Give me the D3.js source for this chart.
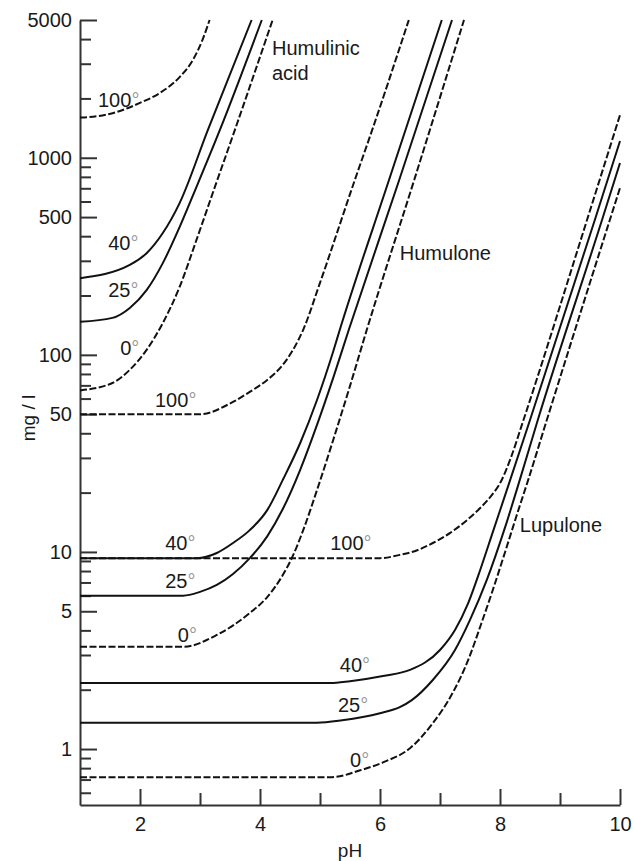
<!DOCTYPE html>
<html>
<head>
<meta charset="utf-8">
<script src="https://cdn.jsdelivr.net/npm/d3@7"></script>
<style>
body { margin: 0; background: #fff; }
text { font-family: "Liberation Sans", Arial, sans-serif; fill: #1a1a1a; }
</style>
</head>
<body>
<svg id="chart" width="634" height="861"></svg>
<script>
// solubility curves, [pH, mg/l]
const humulinic100 = [[1.0,1600],[1.16,1610],[1.61,1706],[1.99,1894],[2.33,2130],[2.66,2567],[2.88,3130],[3.04,3955],[3.16,5000]];
const humulinic40 = [[1.0,245],[1.83,286],[2.11,328],[2.38,415],[2.66,589],[3.13,1381],[3.86,5000]];
const humulinic25 = [[1.0,147],[1.54,154],[1.83,173],[2.11,213],[2.38,292],[2.66,445],[2.94,710],[3.33,1381],[4.03,5000]];
const humulinic0 = [[1.0,66],[1.54,72],[1.83,84],[2.11,106],[2.38,145],[2.66,221],[2.94,382],[3.23,686],[3.58,1381],[4.21,5000]];

const humulone100 = [[1.0,50],[3.0,50],[3.55,57.7],[3.83,64.9],[4.12,74.6],[4.38,88.9],[4.55,106],[4.72,134],[5.0,232],[5.58,771],[5.87,1384],[6.48,5000]];
const humulone40 = [[1.0,9.3],[2.95,9.3],[3.28,9.88],[3.55,11.1],[3.83,12.9],[4.12,16.3],[4.38,23.2],[4.67,35.7],[4.95,59],[5.22,104],[5.33,134],[6.15,771],[7.03,5000]];
const humulone25 = [[1.0,6.0],[2.72,6.0],[3.0,6.27],[3.28,6.8],[3.55,7.73],[3.83,9.3],[4.12,12.0],[4.38,16.5],[4.67,26.1],[4.95,44.1],[5.22,76.4],[5.48,134],[6.32,771],[7.2,5000]];
const humulone0 = [[1.0,3.3],[2.72,3.3],[3.28,3.79],[3.83,4.9],[4.12,5.9],[4.38,7.64],[4.53,9.3],[4.72,12.9],[4.95,20.6],[5.22,37],[5.48,66.4],[5.78,134],[6.57,771],[7.4,5000]];

const lupulone100 = [[1.0,9.3],[6.0,9.3],[6.33,9.66],[6.62,10.2],[6.88,11.1],[7.17,12.5],[7.45,14.5],[7.67,16.7],[7.85,19.2],[8.02,22.9],[8.18,30.0],[8.38,45.6],[9.45,483],[10.0,1648]];
const lupulone40 = [[1.0,2.16],[5.17,2.16],[5.5,2.21],[6.05,2.35],[6.5,2.52],[7.0,3.18],[7.25,4.02],[7.47,5.5],[7.67,8.1],[7.88,12.6],[8.17,23.2],[8.5,46.7],[9.58,483],[10.0,1216]];
const lupulone25 = [[1.0,1.36],[4.95,1.36],[5.37,1.40],[6.0,1.52],[6.33,1.63],[6.53,1.77],[6.88,2.24],[7.25,3.18],[7.5,4.52],[7.78,7.21],[8.08,13.2],[8.33,23.2],[8.63,46.7],[9.7,483],[10.0,940]];
const lupulone0 = [[1.0,0.72],[5.2,0.72],[5.67,0.78],[6.07,0.86],[6.5,1.01],[6.87,1.34],[7.2,1.90],[7.47,2.83],[7.68,4.26],[7.88,6.41],[8.08,9.88],[8.28,15.4],[8.47,23.2],[8.78,46.7],[9.83,483],[10.0,703]];

// [temperature, points]
const curves = [
  [100, humulinic100], [40, humulinic40], [25, humulinic25], [0, humulinic0],
  [100, lupulone100], [40, lupulone40], [25, lupulone25], [0, lupulone0],
  [100, humulone100], [40, humulone40], [25, humulone25], [0, humulone0]
];

// temperature labels [pH, mg/l, text]
const tempLabels = [
  [1.30,1810,"100"],[1.47,340,"40"],[1.47,197,"25"],[1.67,100,"0"],
  [2.25,54.3,"100"],[2.42,10.2,"40"],[2.42,6.56,"25"],[2.63,3.49,"0"],
  [5.17,10.2,"100"],[5.33,2.46,"40"],[5.30,1.54,"25"],[5.50,0.81,"0"]
];
// compound names [pH, mg/l, text]
const nameLabels = [
  [4.2,3325,"Humulinic"],[4.2,2483,"acid"],
  [6.33,303,"Humulone"],[8.33,12.6,"Lupulone"]
];

const yMajor = [1,5,10,50,100,500,1000,5000];
const yMinor = [0.6,0.7,0.8,0.9,2,3,4,6,7,8,9,20,30,40,60,70,80,90,200,300,400,600,700,800,900,2000,3000,4000];
const xMajor = [2,4,6,8,10];
const xMinor = [3,5,7,9];

const svg = d3.select("#chart");
const x = d3.scaleLinear().domain([1,10]).range([80,620]);
const y = d3.scaleLog().domain([0.52,5000]).range([805,20]);

// y axis, ticks pointing inwards
svg.append("g").attr("transform","translate(80,0)")
  .call(d3.axisLeft(y).tickValues(yMajor).tickSizeInner(-17).tickSizeOuter(0).tickPadding(8).tickFormat(d3.format("d")));
svg.append("g").attr("transform","translate(80,0)")
  .call(d3.axisLeft(y).tickValues(yMinor).tickSizeInner(-11).tickSizeOuter(0).tickFormat(""))
  .select(".domain").remove();

// x axis
svg.append("g").attr("transform","translate(0,805)")
  .call(d3.axisBottom(x).tickValues(xMajor).tickSizeInner(-16).tickSizeOuter(0).tickPadding(12).tickFormat(d3.format("d")));
svg.append("g").attr("transform","translate(0,805)")
  .call(d3.axisBottom(x).tickValues(xMinor).tickSizeInner(-12).tickSizeOuter(0).tickFormat(""))
  .select(".domain").remove();

svg.selectAll(".domain, .tick line").attr("stroke","#333").attr("stroke-width",2);
svg.selectAll(".tick text").attr("font-size",20).attr("font-family","Liberation Sans, Arial, sans-serif").attr("fill","#1a1a1a");

// axis titles
svg.append("text").attr("x",350).attr("y",857).attr("text-anchor","middle").attr("font-size",19).text("pH");
svg.append("text").attr("transform","translate(35,418) rotate(-90)").attr("text-anchor","middle").attr("font-size",19).text("mg / l");

// curves
const line = d3.line().x(d=>x(d[0])).y(d=>y(d[1])).curve(d3.curveMonotoneX);
svg.append("g").selectAll("path").data(curves).enter().append("path")
  .attr("d",d=>line(d[1]))
  .attr("fill","none")
  .attr("stroke","#111")
  .attr("stroke-width",2)
  .attr("stroke-dasharray",d=>(d[0]==0||d[0]==100)?"7,2.5":null);

// labels
let tl = svg.append("g").selectAll("text").data(tempLabels).enter().append("text")
  .attr("x",d=>x(d[0])).attr("y",d=>y(d[1])).attr("font-size",20);
tl.append("tspan").text(d=>d[2]);
tl.append("tspan").style("fill","#999").text("°");

svg.append("g").selectAll("text").data(nameLabels).enter().append("text")
  .attr("x",d=>x(d[0])).attr("y",d=>y(d[1])).attr("font-size",20).text(d=>d[2]);
</script>
</body>
</html>
